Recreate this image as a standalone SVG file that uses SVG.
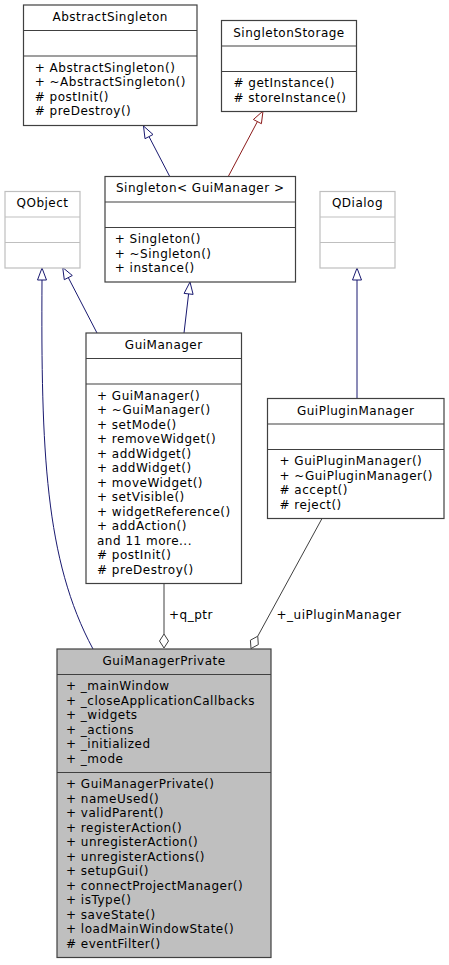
<svg xmlns="http://www.w3.org/2000/svg" width="449" height="965" viewBox="0 0 449 965">
<style>
text{font-family:"DejaVu Sans","Liberation Sans",sans-serif;font-size:12px;letter-spacing:0.5px;fill:#000}
.t{text-anchor:middle}
.box{fill:#fff;stroke:#404040;stroke-width:1.2}
.boxp{fill:#bfbfbf;stroke:#404040;stroke-width:1.2}
.ext{fill:#fff;stroke:#bfbfbf;stroke-width:1.2}
.sep{stroke:#404040;stroke-width:1.2}
.sepg{stroke:#bfbfbf;stroke-width:1.2}
.blue{stroke:#191970;fill:none;stroke-width:1}
.bluea{stroke:#191970;fill:#fff;stroke-width:1}
.red{stroke:#8b1a1a;fill:none;stroke-width:1}
.reda{stroke:#8b1a1a;fill:#fff;stroke-width:1}
.gray{stroke:#404040;fill:none;stroke-width:1}
.graya{stroke:#404040;fill:#fff;stroke-width:1}
</style>
<rect width="449" height="965" fill="#fff"/>
<g id="edges">
<line class="blue" x1="170" y1="177" x2="149" y2="136.6"/>
<polygon class="bluea" points="143.5,126 153,134.5 145,138.7"/>
<line class="red" x1="228" y1="177" x2="257.4" y2="121.6"/>
<polygon class="reda" points="263,111 261.4,123.7 253.4,119.5"/>
<line class="blue" x1="97" y1="333" x2="68.3" y2="277.6"/>
<polygon class="bluea" points="62.7,267.5 72.3,275.5 64.3,279.7"/>
<line class="blue" x1="184" y1="333" x2="188.6" y2="293.9"/>
<polygon class="bluea" points="190,282 193.1,294.4 184.1,293.4"/>
<path class="blue" d="M93,649 C45,560 41,450 42,280"/>
<polygon class="bluea" points="42,268 46.5,280 37.5,280"/>
<line class="blue" x1="357" y1="398.5" x2="357" y2="280"/>
<polygon class="bluea" points="357,268 361.5,280 352.5,280"/>
<line class="gray" x1="164" y1="583.5" x2="164" y2="634"/>
<polygon class="graya" points="164,634 168.5,641 164,648 159.5,641"/>
<text x="169" y="618.5">+q_ptr</text>
<line class="gray" x1="322" y1="518.5" x2="257.75" y2="636.2"/>
<polygon class="graya" points="257.75,636.2 258.3,644.6 251,648.5 250.4,640.2"/>
<text x="276.5" y="618.5">+_uiPluginManager</text>
</g>
<g id="AbstractSingleton">
<rect class="box" x="23.5" y="5" width="173.5" height="120.5"/>
<line class="sep" x1="23.5" y1="30.5" x2="197" y2="30.5"/>
<line class="sep" x1="23.5" y1="56" x2="197" y2="56"/>
<text class="t" x="110.25" y="21">AbstractSingleton</text>
<text x="34.7" y="71.5">+ AbstractSingleton()</text>
<text x="34.7" y="86">+ ~AbstractSingleton()</text>
<text x="34.7" y="100.5"># postInit()</text>
<text x="34.7" y="115"># preDestroy()</text>
</g>
<g id="SingletonStorage">
<rect class="box" x="221.5" y="20.5" width="135" height="91"/>
<line class="sep" x1="221.5" y1="46" x2="356.5" y2="46"/>
<line class="sep" x1="221.5" y1="71.5" x2="356.5" y2="71.5"/>
<text class="t" x="289" y="36.5">SingletonStorage</text>
<text x="233.4" y="87"># getInstance()</text>
<text x="233.4" y="101.5"># storeInstance()</text>
</g>
<g id="Singleton">
<rect class="box" x="105" y="176.5" width="190.5" height="105.5"/>
<line class="sep" x1="105" y1="202" x2="295.5" y2="202"/>
<line class="sep" x1="105" y1="227.5" x2="295.5" y2="227.5"/>
<text class="t" x="200.25" y="192">Singleton&lt; GuiManager &gt;</text>
<text x="114.7" y="243">+ Singleton()</text>
<text x="114.7" y="257.5">+ ~Singleton()</text>
<text x="114.7" y="272">+ instance()</text>
</g>
<g id="QObject">
<rect class="ext" x="5" y="191.5" width="75" height="76.5"/>
<line class="sepg" x1="5" y1="217" x2="80" y2="217"/>
<line class="sepg" x1="5" y1="242.5" x2="80" y2="242.5"/>
<text class="t" x="42.5" y="207">QObject</text>
</g>
<g id="QDialog">
<rect class="ext" x="320" y="191.5" width="75" height="76.5"/>
<line class="sepg" x1="320" y1="217" x2="395" y2="217"/>
<line class="sepg" x1="320" y1="242.5" x2="395" y2="242.5"/>
<text class="t" x="357.5" y="207">QDialog</text>
</g>
<g id="GuiManager">
<rect class="box" x="86" y="333" width="155.5" height="250.5"/>
<line class="sep" x1="86" y1="358.5" x2="241.5" y2="358.5"/>
<line class="sep" x1="86" y1="384" x2="241.5" y2="384"/>
<text class="t" x="163.75" y="349">GuiManager</text>
<text x="97" y="399.5">+ GuiManager()</text>
<text x="97" y="414">+ ~GuiManager()</text>
<text x="97" y="428.5">+ setMode()</text>
<text x="97" y="443">+ removeWidget()</text>
<text x="97" y="457.5">+ addWidget()</text>
<text x="97" y="472">+ addWidget()</text>
<text x="97" y="486.5">+ moveWidget()</text>
<text x="97" y="501">+ setVisible()</text>
<text x="97" y="515.5">+ widgetReference()</text>
<text x="97" y="530">+ addAction()</text>
<text x="97" y="544.5">and 11 more...</text>
<text x="97" y="559"># postInit()</text>
<text x="97" y="573.5"># preDestroy()</text>
</g>
<g id="GuiPluginManager">
<rect class="box" x="267.5" y="398.5" width="176.5" height="120"/>
<line class="sep" x1="267.5" y1="424" x2="444" y2="424"/>
<line class="sep" x1="267.5" y1="449.5" x2="444" y2="449.5"/>
<text class="t" x="355.75" y="414.5">GuiPluginManager</text>
<text x="279.5" y="465">+ GuiPluginManager()</text>
<text x="279.5" y="479.5">+ ~GuiPluginManager()</text>
<text x="279.5" y="494"># accept()</text>
<text x="279.5" y="508.5"># reject()</text>
</g>
<g id="GuiManagerPrivate">
<rect class="boxp" x="57" y="649" width="214" height="308.5"/>
<line class="sep" x1="57" y1="674.5" x2="271" y2="674.5"/>
<line class="sep" x1="57" y1="772.5" x2="271" y2="772.5"/>
<text class="t" x="164" y="665">GuiManagerPrivate</text>
<text x="66" y="690">+ _mainWindow</text>
<text x="66" y="704.5">+ _closeApplicationCallbacks</text>
<text x="66" y="719">+ _widgets</text>
<text x="66" y="733.5">+ _actions</text>
<text x="66" y="748">+ _initialized</text>
<text x="66" y="762.5">+ _mode</text>
<text x="66" y="788">+ GuiManagerPrivate()</text>
<text x="66" y="802.5">+ nameUsed()</text>
<text x="66" y="817">+ validParent()</text>
<text x="66" y="831.5">+ registerAction()</text>
<text x="66" y="846">+ unregisterAction()</text>
<text x="66" y="860.5">+ unregisterActions()</text>
<text x="66" y="875">+ setupGui()</text>
<text x="66" y="889.5">+ connectProjectManager()</text>
<text x="66" y="904">+ isType()</text>
<text x="66" y="918.5">+ saveState()</text>
<text x="66" y="933">+ loadMainWindowState()</text>
<text x="66" y="947.5"># eventFilter()</text>
</g>
</svg>
